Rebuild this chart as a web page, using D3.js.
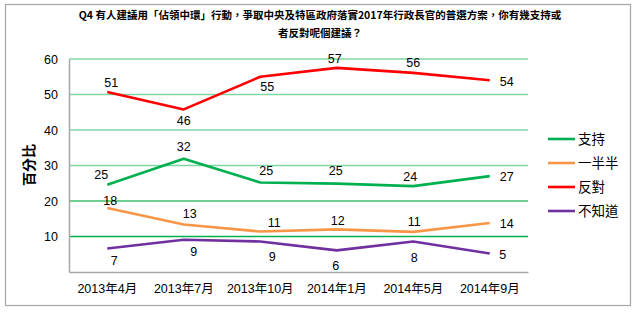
<!DOCTYPE html>
<html><head><meta charset="utf-8">
<script src="https://cdn.jsdelivr.net/npm/d3@7"></script>
<style>body{margin:0;background:#fff}svg{display:block}</style>
</head><body>
<svg id="c" width="639" height="336"></svg>
<script>
const categories = ["2013年4月","2013年7月","2013年10月","2014年1月","2014年5月","2014年9月"];
const seriesNames = ["支持","一半半","反對","不知道"];
const support = [24.6, 31.9, 25.2, 24.9, 24.2, 27.0];
const half = [18.0, 13.4, 11.4, 12.0, 11.3, 13.8];
const oppose = [50.7, 45.8, 55.0, 57.5, 56.1, 54.0];
const unknown = [6.6, 9.1, 8.6, 6.1, 8.6, 5.2];
const supportLabels = [25, 32, 25, 25, 24, 27];
const halfLabels = [18, 13, 11, 12, 11, 14];
const opposeLabels = [51, 46, 55, 57, 56, 54];
const unknownLabels = [7, 9, 9, 6, 8, 5];
const yTicks = [10, 20, 30, 40, 50, 60];
const titleLines = ["Q4 有人建議用「佔領中環」行動，爭取中央及特區政府落實2017年行政長官的普選方案，你有幾支持或","者反對呢個建議？"];
const yTitle = "百分比";

const colors = ["#00b050", "#f79646", "#ff0000", "#7030a0"];
// label placement: [dx, dy] relative to point (layout only)
const labelOffsets = [
  [[-6,-10],[0,-12],[6,-12],[-1,-13],[-3,-9],[17,0]],
  [[3,-7],[6,-11],[14,-9],[1,-9],[1,-10],[17,1]],
  [[4,-9],[0,11],[7,10],[-2,-9],[0,-10],[17,1]],
  [[7,12],[10,12],[12,15],[-1,15],[1,16],[13,1]]
];

const svg = d3.select("#c");
const font = "'Liberation Sans', 'Noto Sans CJK TC', sans-serif";
const cjk = "'Noto Sans CJK TC', sans-serif";

// frame
svg.append("rect").attr("x",5.5).attr("y",4.5).attr("width",625).attr("height",301)
  .attr("fill","#fff").attr("stroke","#a6a6a6").attr("stroke-width",1.2);

const L = 69, R = 528, T = 59, B = 272;
const x = d3.scaleBand().domain(categories).range([L, R]);
const y = d3.scaleLinear().domain([0, 60]).range([B, T]);
const cx = d => x(d) + x.bandwidth()/2;

// gridlines
const gridCols = {10:"#00b050",20:"#3cbf6e",30:"#7ed6a2",40:"#7ed6a2",50:"#7ed6a2",60:"#7ed6a2"};
svg.append("g").selectAll("line").data(yTicks).join("line")
  .attr("x1", L).attr("x2", R).attr("y1", d => y(d)).attr("y2", d => y(d))
  .attr("stroke", d => gridCols[d]).attr("stroke-width", 1.3);

// axes
const yAxis = svg.append("g").attr("transform",`translate(${L},0)`)
  .call(d3.axisLeft(y).tickValues(yTicks).tickSize(0).tickPadding(11));
yAxis.select(".domain").attr("stroke","#a6a6a6").attr("stroke-width",1.5);
yAxis.selectAll("text").attr("font-family",font).attr("font-size",12.5).attr("fill","#000");

const xAxis = svg.append("g").attr("transform",`translate(0,${B})`)
  .call(d3.axisBottom(x).tickSize(0).tickPadding(12));
xAxis.select(".domain").attr("stroke","#a6a6a6").attr("stroke-width",1.5);
xAxis.selectAll("text").attr("font-family",font).attr("font-size",12.5).attr("fill","#000");

// y title
svg.append("text").attr("transform","translate(34,165) rotate(-90)")
  .attr("text-anchor","middle").attr("font-family",cjk).attr("font-size",14)
  .attr("font-weight","bold").attr("fill","#000").text(yTitle);

// title
svg.append("g").selectAll("text").data(titleLines).join("text")
  .attr("x", 320).attr("y", (d,i) => 19 + i*18).attr("text-anchor","middle")
  .attr("font-family",cjk).attr("font-size",10.5).attr("font-weight","bold").attr("fill","#000")
  .text(d => d);

const allSeries = [support, half, oppose, unknown];
const allLabels = [supportLabels, halfLabels, opposeLabels, unknownLabels];
const line = d3.line().x((d,i) => cx(categories[i])).y(d => y(d));

allSeries.forEach((s, k) => {
  svg.append("path").datum(s).attr("d", line).attr("fill","none")
    .attr("stroke", colors[k]).attr("stroke-width", 2.6).attr("stroke-linejoin","round");
  svg.append("g").selectAll("text").data(s).join("text")
    .attr("x", (d,i) => cx(categories[i]) + labelOffsets[k][i][0])
    .attr("y", (d,i) => y(d) + labelOffsets[k][i][1])
    .attr("dy","0.35em").attr("text-anchor","middle")
    .attr("font-family",font).attr("font-size",12.5).attr("fill","#000")
    .text((d,i) => allLabels[k][i]);
});

// legend
const lg = svg.append("g").selectAll("g").data(seriesNames).join("g")
  .attr("transform",(d,i) => `translate(548,${139 + i*24})`);
lg.append("line").attr("x1",0).attr("x2",27).attr("stroke",(d,i)=>colors[i]).attr("stroke-width",2.6);
lg.append("text").attr("x",30).attr("dy","0.38em").attr("font-family",cjk).attr("font-size",13.5)
  .attr("fill","#000").text(d => d);
</script>
</body></html>
